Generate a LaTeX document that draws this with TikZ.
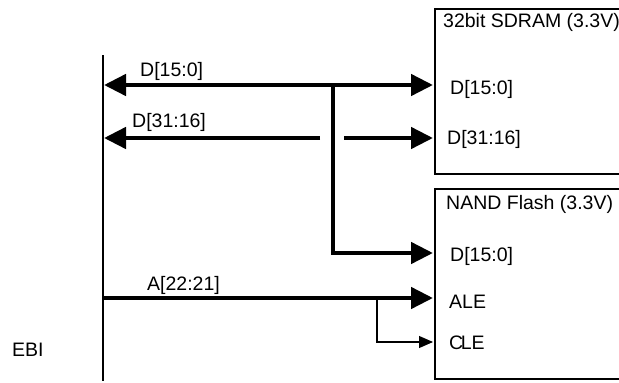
\documentclass[tikz,border=0pt]{standalone}
\usepackage{fontspec}
\setmainfont{Liberation Sans}
\usetikzlibrary{arrows.meta}
\tikzset{
  lbl/.style={anchor=base west, inner sep=0pt, font=\fontsize{19.5}{22}\selectfont},
  bus/.style={line width=4.6pt, line join=miter},
  bigtip/.style={-{Triangle[length=22pt,width=21pt]}},
  bigtips/.style={{Triangle[length=22pt,width=21pt]}-{Triangle[length=22pt,width=21pt]}},
  thinwire/.style={line width=1.1pt, -{Triangle[length=14pt,width=12pt]}},
  chip/.style={draw, line width=2pt, rectangle, inner sep=0pt},
  ebiline/.style={line width=2.6pt}
}
\begin{document}
\begin{tikzpicture}[x=1pt,y=-1pt]
\useasboundingbox (0,0) rectangle (619,383);
\clip (0,0) rectangle (619,383);
% chips
\node[chip, minimum width=220pt, minimum height=165pt, anchor=north west] (sdram) at (434,8) {};
\node[chip, minimum width=220pt, minimum height=190pt, anchor=north west] (nand) at (434,188) {};
\node[lbl] (sdt) at (443,27) {32bit SDRAM (3.3V)};
\node[lbl] (sd1) at (450,94) {D[15:0]};
\node[lbl] (sd2) at (447,144) {D[31:16]};
\node[lbl] (nt) at (446,209) {NAND Flash (3.3V)};
\node[lbl] (nd) at (450,261) {D[15:0]};
\node[lbl] (nale) at (449,308) {ALE};
\node[lbl] (ncle) at (449,349) {C\kern-2.5pt LE};
% EBI
\coordinate (ebitop) at (103,55);
\coordinate (ebibot) at (103,381);
\draw[ebiline] (ebitop) -- (ebibot);
\node[lbl] (ebi) at (12,356) {EBI};
% connection points
\coordinate (l1) at (104,85);
\coordinate (r1) at (433,85);
\coordinate (j1) at (333,85);
\coordinate (r3) at (433,253);
\coordinate (l2) at (104,138);
\coordinate (g1) at (320,138);
\coordinate (g2) at (344,138);
\coordinate (r2) at (433,138);
\coordinate (l4) at (103,298);
\coordinate (r4) at (433,298);
\coordinate (j4) at (377,298);
\coordinate (r5) at (433,342);
% buses
\draw[bus, bigtips] (l1) -- (r1);
\draw[bus, bigtip] (j1) |- (r3);
\draw[bus, bigtip] (g1) -- (l2);
\draw[bus, bigtip] (g2) -- (r2);
\draw[bus, bigtip] (l4) -- (r4);
\draw[thinwire] (j4) |- (r5);
% labels
\node[lbl] (la) at (140,76) {D[15:0]};
\node[lbl] (lb) at (132,127) {D[31:16]};
\node[lbl] (lc) at (147,290) {A[22:21]};
\end{tikzpicture}
\end{document}
